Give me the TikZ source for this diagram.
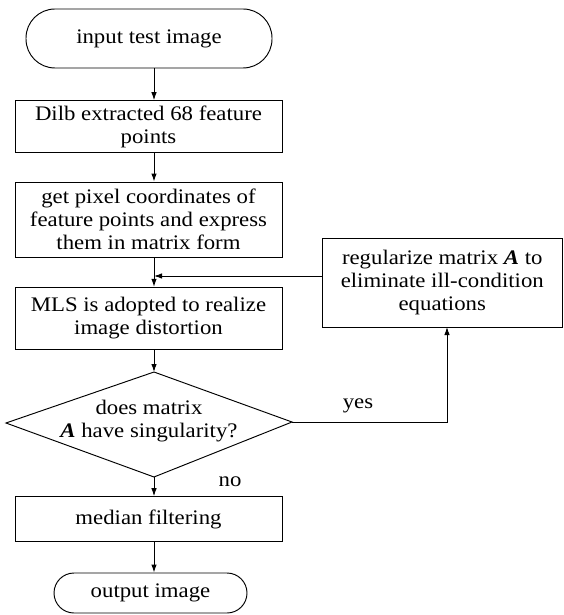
\documentclass[tikz,border=0pt]{standalone}
\usepackage{fontspec}
\setmainfont{Liberation Serif}[FakeStretch=1.1]
\usetikzlibrary{arrows.meta}
\tikzset{
  base/.style={draw, line width=0.95pt, align=center, inner sep=0pt,
    font=\fontsize{20.7}{23}\selectfont},
  procbox/.style={base, rectangle, minimum width=267pt},
  termbox/.style={base, rectangle},
  lbl/.style={font=\fontsize{20.7}{23}\selectfont, inner sep=0pt},
  arr/.style={-{Latex[length=8pt,width=5.5pt]}, line width=0.95pt},
  ln/.style={line width=0.95pt}
}
\begin{document}
\begin{tikzpicture}[x=1pt,y=-1pt]
\useasboundingbox (0,0) rectangle (564,615);
\coordinate (spine) at (154,0);
\node[termbox, minimum width=246pt, minimum height=59pt, rounded corners=29pt] (start) at (149,38.5) {input test image};
\node[procbox, minimum height=52pt] (b2) at (148.5,126.7) {Dilb extracted 68 feature\\points};
\node[procbox, minimum height=75pt] (b3) at (148.5,219.5) {get pixel coordinates of\\feature points and express\\them in matrix form};
\node[procbox, minimum height=62pt] (b4) at (148.5,318.3) {MLS is adopted to realize\\image distortion};
\node[base, rectangle, minimum width=240.5pt, minimum height=89pt] (reg) at (442.25,282.5) {regularize matrix \textbf{\textit{A}} to\\eliminate ill-condition\\equations};
% decision diamond
\coordinate (dtop) at (154,372);
\coordinate (dleft) at (6,423);
\coordinate (dright) at (292,422);
\coordinate (dbot) at (154,477);
\draw[ln, line join=miter] (dtop) -- (dright) -- (dbot) -- (dleft) -- cycle;
\node[lbl, align=center] (dtext) at (149,421.5) {does matrix\\\textbf{\textit{A}} have singularity?};
\node[procbox, minimum height=45pt] (med) at (148.5,519.2) {median filtering};
\node[termbox, minimum width=193pt, minimum height=40pt, rounded corners=20pt] (out) at (150.5,593) {output image};
\node[lbl] (yes) at (358,406) {yes};
\node[lbl] (no) at (230,482) {no};
\coordinate (fb) at (154,276);
\coordinate (regin) at (447,327);
% connectors
\draw[arr] (start.south -| spine) -- (b2.north -| spine);
\draw[arr] (b2.south -| spine) -- (b3.north -| spine);
\draw[arr] (b3.south -| spine) -- (b4.north -| spine);
\draw[arr] (reg.west |- fb) -- (fb);
\draw[arr] (b4.south -| spine) -- (dtop);
\draw[arr] (dright) -| (regin);
\draw[arr] (dbot) -- (med.north -| spine);
\draw[arr] (med.south -| spine) -- (out.north -| spine);
\end{tikzpicture}
\end{document}
